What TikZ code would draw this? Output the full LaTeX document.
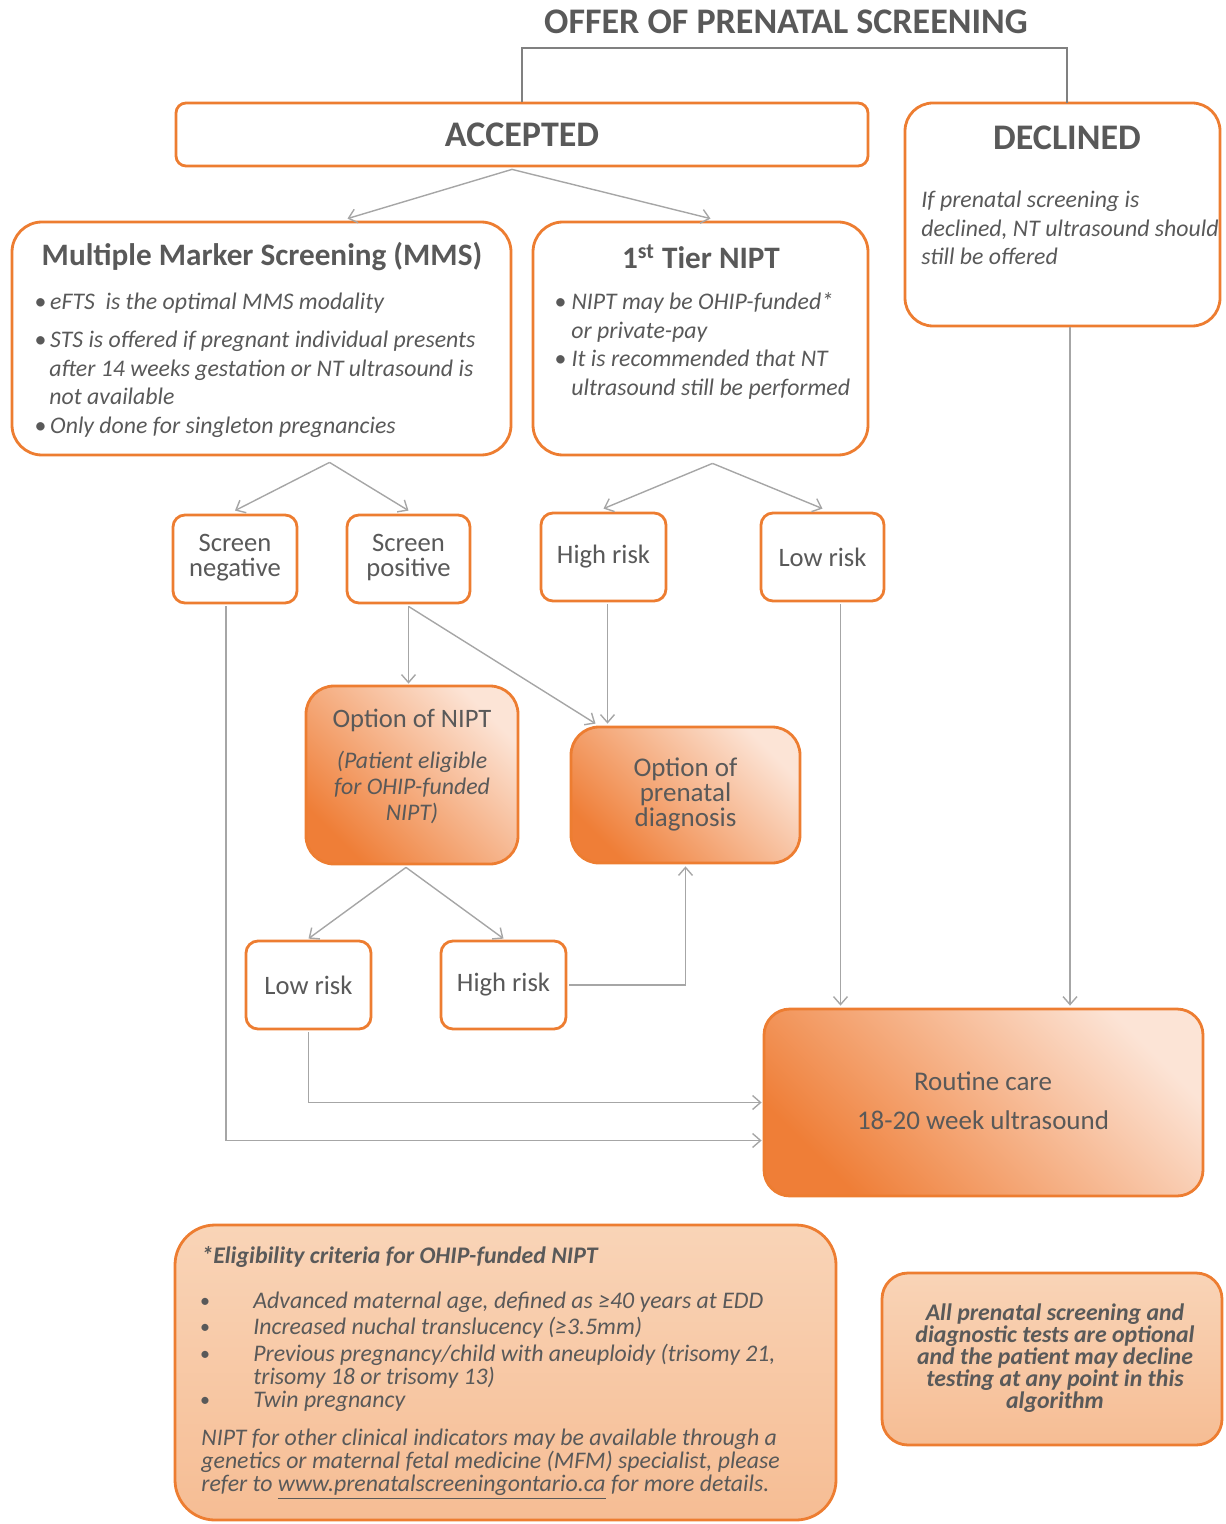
\documentclass[tikz,border=0pt]{standalone}
\usepackage{fontspec}
\setmainfont{Carlito}
\usetikzlibrary{arrows.meta,calc}
\definecolor{orng}{HTML}{ED7D31}
\definecolor{txt}{HTML}{595959}
\definecolor{lnk}{HTML}{A6A6A6}
\definecolor{hotdark}{HTML}{EF7E37}
\definecolor{hotlight}{HTML}{FCE4D6}
\definecolor{softtop}{HTML}{F9D4B7}
\definecolor{softbot}{HTML}{F6BD94}
\begin{document}
\begin{tikzpicture}[x=0.5pt,y=-0.5pt,
  sz/.style 2 args={minimum width=#1*0.5pt, minimum height=#2*0.5pt},
  box/.style={draw=orng, line width=1.4pt, fill=white, inner sep=0pt, text=txt},
  hot/.style={draw=orng, line width=1.4pt, inner sep=0pt, text=txt,
              top color=hotlight, bottom color=hotdark, shading angle=-45},
  soft/.style={draw=orng, line width=1.4pt, inner sep=0pt, text=txt,
              top color=softtop, bottom color=softbot},
  lbl/.style={text=txt, inner sep=0pt},
  bigb/.style={lbl, font=\fontsize{18}{21}\selectfont\bfseries},
  headb/.style={lbl, font=\fontsize{15.6}{18}\selectfont\bfseries},
  ln/.style={lbl, anchor=west, font=\fontsize{11.9}{14}\selectfont\itshape,
             text height=1.6ex, text depth=0.45ex},
  boxtxt/.style={font=\fontsize{13.3}{13}\selectfont},
  mid/.style={lbl, font=\fontsize{13.3}{12.5}\selectfont, align=center},
  link/.style={draw=lnk, line width=0.7pt},
  arr/.style={link, -{Straight Barb[length=4pt,width=7pt]}},
]
\useasboundingbox (0,0) rectangle (1225,1524);

% ---- top level ----
\node[bigb] (title) at (786,22) {OFFER OF PRENATAL SCREENING};
\node[box, sz={692}{63}, rounded corners=5pt, font=\fontsize{18}{21}\selectfont\bfseries] (acc) at (522,134.5) {ACCEPTED};
\node[box, sz={315}{223}, rounded corners=14pt] (dec) at (1062.5,214.5) {};
\node[bigb] (dect) at (1067,138) {DECLINED};
\node[ln] (d1) at (921,202) {If prenatal screening is};
\node[ln] (d2) at (921,231) {declined, NT ultrasound should};
\node[ln] (d3) at (921,259) {still be offered};

\coordinate (bar) at (786,48);
\coordinate (dectop) at (1067,103);
\draw[draw=gray, line width=1pt] (acc.north) |- (bar) -| (dectop);

% ---- screening options ----
\node[box, sz={499}{233}, rounded corners=15pt] (mms) at (261.5,338.5) {};
\node[headb] (mmst) at (262,257) {Multiple Marker Screening (MMS)};
\node[ln] (m1) at (34,304) {\textbullet\,eFTS\ \ is the optimal MMS modality};
\node[ln] (m2) at (34,342) {\textbullet\,STS is offered if pregnant individual presents};
\node[ln] (m3) at (49,371) {after 14 weeks gestation or NT ultrasound is};
\node[ln] (m4) at (49,399) {not available};
\node[ln] (m5) at (34,428) {\textbullet\,Only done for singleton pregnancies};

\node[box, sz={335}{233}, rounded corners=15pt] (nipt) at (700.5,338.5) {};
\node[headb] (niptt) at (701,257) {1\textsuperscript{st} Tier NIPT};
\node[ln] (n1) at (554,304) {\textbullet\ NIPT may be OHIP-funded*};
\node[ln] (n2) at (571,333) {or private-pay};
\node[ln] (n3) at (554,361) {\textbullet\ It is recommended that NT};
\node[ln] (n4) at (571,390) {ultrasound still be performed};

\draw[arr] ($(acc.south)+(-10,2)$) -- ($(mms.north)+(86,-2)$);
\draw[arr] ($(acc.south)+(-10,2)$) -- ($(nipt.north)+(10,-2)$);

% ---- results ----
\node[box, sz={124}{88}, rounded corners=6pt] (sneg) at (235,559) {};
\node[mid] (snegt) at (235,558) {Screen\\negative};
\node[box, sz={123}{88}, rounded corners=6pt] (spos) at (408.5,559) {};
\node[mid] (spost) at (408.5,558) {Screen\\positive};
\node[box, sz={125}{88}, rounded corners=6pt, boxtxt] (hr) at (603.5,557) {High risk};
\node[box, sz={123}{88}, rounded corners=6pt, boxtxt] (lr) at (822.5,557) {Low risk};

\draw[arr] ($(mms.south)+(68,6)$) -- ($(sneg.north)+(0,-3)$);
\draw[arr] ($(mms.south)+(68,6)$) -- ($(spos.north)+(0,-3)$);
\draw[arr] ($(nipt.south)+(12,7)$) -- ($(hr.north)+(0,-3)$);
\draw[arr] ($(nipt.south)+(12,7)$) -- ($(lr.north)+(0,-3)$);

% ---- options ----
\node[hot, sz={212}{178}, rounded corners=14pt] (onipt) at (412,775) {};
\node[lbl, font=\fontsize{13.3}{13}\selectfont] (onipt1) at (412,720) {Option of NIPT};
\node[lbl, font=\fontsize{11.9}{13}\selectfont\itshape, align=center] (onipt2) at (412,787) {(Patient eligible\\for OHIP-funded\\NIPT)};
\node[hot, sz={229}{136}, rounded corners=14pt] (opd) at (685.5,795) {};
\node[lbl, font=\fontsize{13.5}{12.5}\selectfont, align=center] (opdt) at (685.5,794) {Option of\\prenatal\\diagnosis};

\draw[arr] ($(spos.south)+(0,2)$) -- ($(spos.south |- onipt.north)+(0,-1)$);
\draw[arr] ($(spos.south)+(0,2)$) -- ($(opd.north)+(-90,-2)$);
\draw[arr] ($(hr.south)+(4,2)$) -- ($(hr.south |- opd.north)+(4,-2)$);

\node[box, sz={125}{88}, rounded corners=6pt, boxtxt] (lr2) at (308.5,985) {Low risk};
\node[box, sz={125}{88}, rounded corners=6pt, boxtxt] (hr2) at (503.5,985) {High risk};

\draw[arr] ($(onipt.south)+(-6,2)$) -- ($(lr2.north)+(0,-1)$);
\draw[arr] ($(onipt.south)+(-6,2)$) -- ($(hr2.north)+(0,-1)$);
\draw[arr] ($(hr2.east)+(2,0)$) -| ($(opd.south)+(0,2)$);

% ---- routine care ----
\node[hot, sz={439}{187}, rounded corners=13pt] (rc) at (983.5,1102.5) {};
\node[lbl, font=\fontsize{13.5}{13}\selectfont] (rc1) at (983,1081) {Routine care};
\node[lbl, font=\fontsize{13.5}{13}\selectfont] (rc2) at (983,1120) {18-20 week ultrasound};

\draw[arr] ($(lr.south)+(18,2)$) -- ($(lr.south |- rc.north)+(18,-2)$);
\draw[arr] ($(dec.south)+(7.5,0)$) -- ($(dec.south |- rc.north)+(7.5,-2)$);
\draw[arr] ($(lr2.south)+(0,2)$) |- ($(rc.west)+(-1,0)$);
\draw[arr] ($(sneg.south)+(-9,2)$) |- ($(rc.west)+(-1,38)$);

% ---- notes ----
\node[soft, sz={661}{295}, rounded corners=20pt] (elig) at (505.5,1372.5) {};
\node[ln, font=\fontsize{11.9}{14}\selectfont\bfseries\itshape] (e0) at (201,1258) {*Eligibility criteria for OHIP-funded NIPT};
\node[lbl] (b1) at (205,1303) {\textbullet};
\node[lbl] (b2) at (205,1329) {\textbullet};
\node[lbl] (b3) at (205,1356) {\textbullet};
\node[lbl] (b4) at (205,1402) {\textbullet};
\node[ln] (e1) at (253,1303) {Advanced maternal age, defined as ≥40 years at EDD};
\node[ln] (e2) at (253,1329) {Increased nuchal translucency (≥3.5mm)};
\node[ln] (e3) at (253,1356) {Previous pregnancy/child with aneuploidy (trisomy 21,};
\node[ln] (e4) at (253,1379) {trisomy 18 or trisomy 13)};
\node[ln] (e5) at (253,1402) {Twin pregnancy};
\node[ln] (e6) at (201,1440) {NIPT for other clinical indicators may be available through a};
\node[ln] (e7) at (201,1463) {genetics or maternal fetal medicine (MFM) specialist, please};
\node[ln] (e8) at (201,1486) {refer to \underline{www.prenatalscreeningontario.ca} for more details.};

\node[soft, sz={340}{172}, rounded corners=13pt] (opt) at (1052,1359) {};
\node[lbl, font=\fontsize{11.9}{11}\selectfont\bfseries\itshape, align=center] (optt) at (1055,1358)
  {All prenatal screening and\\diagnostic tests are optional\\and the patient may decline\\testing at any point in this\\algorithm};
\end{tikzpicture}
\end{document}
